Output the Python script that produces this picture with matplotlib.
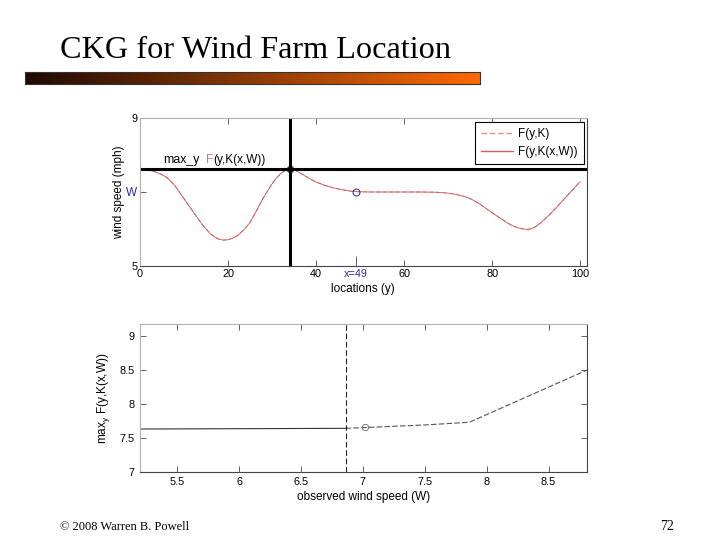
import numpy as np
import matplotlib
matplotlib.use("Agg")
import matplotlib.pyplot as plt
from matplotlib.colors import LinearSegmentedColormap

# ---------------- data ----------------
loc_y = [0, 1, 2, 3, 4, 5, 6, 7, 8, 9, 10, 11, 12, 13, 14, 15, 16, 17, 18, 19,
         20, 21, 22, 23, 24, 25, 26, 27, 28, 29, 30, 31, 32, 33, 34, 35, 36, 37,
         38, 39, 40, 42, 44, 46, 48, 49, 52, 56, 60, 64, 67, 69, 70, 71, 72, 73,
         74, 75, 76, 77, 78, 79, 80, 81, 82, 83, 84, 85, 86, 87, 88, 89, 90, 91,
         92, 93, 94, 95, 96, 97, 98, 99, 100]
wind_F = [7.62, 7.61, 7.59, 7.56, 7.52, 7.47, 7.40, 7.29, 7.16, 6.99, 6.82, 6.65,
          6.48, 6.31, 6.14, 6.00, 5.87, 5.78, 5.72, 5.70, 5.71, 5.75, 5.81, 5.91,
          6.03, 6.18, 6.39, 6.61, 6.84, 7.03, 7.22, 7.38, 7.50, 7.58, 7.63, 7.60,
          7.54, 7.47, 7.40, 7.33, 7.27, 7.18, 7.11, 7.06, 7.02, 7.01, 7.00, 7.00,
          7.00, 7.00, 6.995, 6.98, 6.97, 6.95, 6.93, 6.90, 6.87, 6.82, 6.76, 6.69,
          6.61, 6.52, 6.44, 6.36, 6.28, 6.20, 6.13, 6.07, 6.03, 6.00, 5.99, 6.01,
          6.07, 6.16, 6.27, 6.38, 6.50, 6.63, 6.76, 6.89, 7.02, 7.15, 7.28]
x_meas = 49
W_obs = 7.0
y_best = 34
max_val = 7.63

W_solid = [5.2, 6.86]
max_solid = [7.63, 7.64]
W_dash = [6.86, 7.0, 7.5, 7.86, 8.81]
max_dash = [7.64, 7.65, 7.69, 7.73, 8.50]
W_crit = 6.86
W_pt, max_pt = 7.02, 7.655

top_xticks = [0, 20, 40, 49, 60, 80, 100]
top_xlabels = ["0", "20", "40", "x=49", "60", "80", "100"]
top_yticks = [5, 7.0, 9]
top_ylabels = ["5", "W", "9"]
bot_xticks = [5.5, 6, 6.5, 7, 7.5, 8, 8.5]
bot_xlabels = ["5.5", "6", "6.5", "7", "7.5", "8", "8.5"]
bot_yticks = [7, 7.5, 8, 8.5, 9]
bot_ylabels = ["7", "7.5", "8", "8.5", "9"]

# ---------------- figure ----------------
fig = plt.figure(figsize=(7.2, 5.4), dpi=100)
fig.patch.set_facecolor("white")
SANS = ["Liberation Sans", "DejaVu Sans"]
SERIF = ["Liberation Serif", "DejaVu Serif"]
tfs = 7.8
lfs = 8.5

# Title
fig.text(60 / 720, 1 - 50 / 540, "CKG for Wind Farm Location", family=SERIF,
         fontsize=23.2, va="center", ha="left", color="black")
# gradient bar
bar_ax = fig.add_axes([25 / 720, 1 - 84 / 540, 455 / 720, 12 / 540])
cmap = LinearSegmentedColormap.from_list("g", ["#1e0a00", "#8a3a05", "#ff6a00"])
bar_ax.imshow(np.linspace(0, 1, 256)[None, :], aspect="auto", cmap=cmap)
bar_ax.set_xticks([]); bar_ax.set_yticks([])
for s in bar_ax.spines.values():
    s.set_color("#333333"); s.set_linewidth(0.8)

# footer
fig.text(60 / 720, 1 - 527 / 540, "\u00a9 2008 Warren B. Powell", family=SERIF,
         fontsize=9, va="center", ha="left")
fig.text(660 / 720, 1 - 527 / 540, "72", family=SERIF, fontsize=10,
         va="center", ha="left")

def style_spines(ax):
    for k in ("left", "top"):
        ax.spines[k].set_color("#b0b0b0")
    for k in ("right", "bottom"):
        ax.spines[k].set_color("#444444")
    for s in ax.spines.values():
        s.set_linewidth(0.8)

# ---------------- top axes ----------------
ax1 = fig.add_axes([140 / 720, 1 - 266 / 540, 446.7 / 720, 148 / 540])
ax1.plot(loc_y, wind_F, color="#e08a8a", lw=0.8, ls=(0, (4, 2)), label="F(y,K)")
ax1.plot(loc_y, wind_F, color="#cc5f5f", lw=0.6, label="F(y,K(x,W))")
ax1.axhline(max_val, color="black", lw=2.2)
ax1.axvline(y_best, color="black", lw=2.2)
ax1.plot([y_best], [max_val], marker="o", ms=4.5, mfc="none", mec="black", mew=0.7)
ax1.plot([x_meas], [W_obs], marker="o", ms=5, mfc="none", mec="#3a3aa8", mew=0.8)
ax1.text(5.2, max_val + 0.07, "max_y", family=SANS, fontsize=8.8, va="bottom", ha="left")
ax1.text(15.0, max_val + 0.07, "F", family=SANS, fontsize=8.8, va="bottom", ha="left",
         color="#c08080")
ax1.text(16.6, max_val + 0.07, "(y,K(x,W))", family=SANS, fontsize=8.5, va="bottom",
         ha="left")
ax1.set_xlim(0, 101.5)
ax1.set_ylim(5, 9)
ax1.set_xticks(top_xticks)
ax1.set_xticklabels(top_xlabels, family=SANS, fontsize=tfs)
ax1.set_yticks(top_yticks)
ax1.set_yticklabels(top_ylabels, family=SANS, fontsize=tfs)
ax1.tick_params(direction="in", length=4, width=0.6, top=True, right=False,
                colors="#444444", labelcolor="black", pad=2)
xt = ax1.xaxis.get_major_ticks()
xt[3].tick1line.set_color("#3a3aa8")
xt[3].tick1line.set_markersize(7)
xt[3].tick2line.set_visible(False)
xt[3].label1.set_color("#2a2a99")
yt = ax1.yaxis.get_major_ticks()
yt[1].tick1line.set_color("#3a3aa8")
yt[1].label1.set_color("#2a2a99")
yt[1].label1.set_fontsize(8.5)
ax1.set_xlabel("locations (y)", family=SANS, fontsize=lfs, labelpad=3)
ax1.set_ylabel("wind speed (mph)", family=SANS, fontsize=lfs, labelpad=1)
style_spines(ax1)
leg = ax1.legend(loc="upper right", bbox_to_anchor=(0.994, 0.97), borderaxespad=0,
                 prop={"family": SANS, "size": 8.5}, fancybox=False, framealpha=1,
                 edgecolor="black", labelspacing=0.45, handlelength=2.7,
                 handletextpad=0.5, borderpad=0.5)
leg.get_frame().set_linewidth(0.8)
for ln in leg.get_lines():
    ln.set_linewidth(1.0)

# ---------------- bottom axes ----------------
ax2 = fig.add_axes([140 / 720, 1 - 471.7 / 540, 447 / 720, 147.7 / 540])
ax2.plot(W_solid, max_solid, color="#333333", lw=0.8)
ax2.plot(W_dash, max_dash, color="#555555", lw=0.8, ls=(0, (5, 2)))
ax2.axvline(W_crit, color="#222222", lw=0.8, ls=(0, (5, 2.5)))
ax2.plot([W_pt], [max_pt], marker="o", ms=4.5, mfc="none", mec="#777777", mew=0.7)
ax2.set_xlim(5.2, 8.81)
ax2.set_ylim(7, 9.18)
ax2.set_xticks(bot_xticks)
ax2.set_xticklabels(bot_xlabels, family=SANS, fontsize=tfs)
ax2.set_yticks(bot_yticks)
ax2.set_yticklabels(bot_ylabels, family=SANS, fontsize=tfs)
ax2.tick_params(direction="in", length=4, width=0.6, top=True, right=True,
                colors="#444444", labelcolor="black", pad=4)
ax2.set_xlabel("observed wind speed (W)", family=SANS, fontsize=lfs, labelpad=3)
ax2.set_ylabel(r"max$_{\mathregular{y}}$ F(y,K(x,W))", family=SANS, fontsize=lfs,
               labelpad=5)
style_spines(ax2)

fig.savefig("out.png", dpi=100, facecolor="white")
